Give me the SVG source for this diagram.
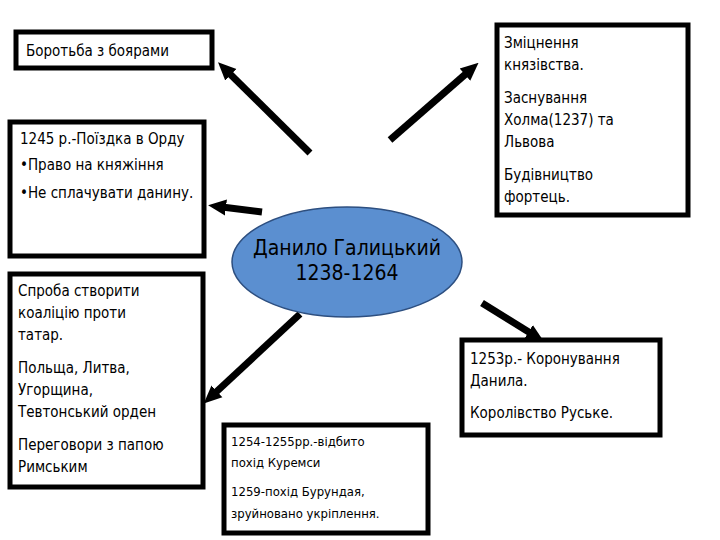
<svg xmlns="http://www.w3.org/2000/svg" width="720" height="540" viewBox="0 0 720 540">
<style>
.b{fill:#fff;stroke:#000;stroke-width:5}
text{font-family:"DejaVu Sans Condensed","DejaVu Sans",sans-serif;font-size:15px;fill:#000}
.c{stroke:#000;stroke-width:7;fill:none;marker-end:url(#a)}
</style>
<defs><marker id="a" markerUnits="userSpaceOnUse" markerWidth="18" markerHeight="18" refX="4" refY="9" orient="auto" viewBox="0 0 18 18"><path d="M0,1 L18,9 L0,17 Z" fill="#000"/></marker></defs>
<rect width="720" height="540" fill="#fff"/>
<g id="connectors">
<line class="c" x1="310" y1="153" x2="228" y2="72"/>
<line class="c" x1="390" y1="140" x2="468" y2="72"/>
<line class="c" x1="262" y1="212" x2="222" y2="207"/>
<line class="c" x1="300" y1="314" x2="214" y2="394"/>
<line class="c" x1="482" y1="303" x2="532" y2="334"/>
</g>
<g id="n1"><rect class="b" x="16" y="32" width="196" height="36"/><text x="26" y="56">Боротьба з боярами</text></g>
<g id="n2"><rect class="b" x="497" y="25" width="191" height="190"/>
<text x="504" y="48">Зміцнення</text><text x="504" y="70">князівства.</text>
<text x="504" y="103">Заснування</text><text x="504" y="125">Холма(1237) та</text><text x="504" y="147">Львова</text>
<text x="504" y="180">Будівництво</text><text x="504" y="202">фортець.</text></g>
<g id="n3"><rect class="b" x="10" y="122" width="194" height="134"/>
<text x="20" y="144">1245 р.-Поїздка в Орду</text><text x="20" y="170">•Право на княжіння</text><text x="20" y="198">•Не сплачувати данину.</text></g>
<g id="n4"><rect class="b" x="10" y="274" width="193" height="213"/>
<text x="18" y="296">Спроба створити</text><text x="18" y="318">коаліцію проти</text><text x="18" y="340">татар.</text>
<text x="18" y="373">Польща, Литва,</text><text x="18" y="395">Угорщина,</text><text x="18" y="417">Тевтонський орден</text>
<text x="18" y="450">Переговори з папою</text><text x="18" y="472">Римським</text></g>
<g id="n5"><rect class="b" x="224" y="425" width="204" height="108"/>
<text x="231" y="446" style="font-size:13px">1254-1255рр.-відбито</text><text x="231" y="467" style="font-size:13px">похід Куремси</text>
<text x="231" y="496" style="font-size:13px">1259-похід Бурундая,</text><text x="231" y="518" style="font-size:13px">зруйновано укріплення.</text></g>
<g id="n6"><rect class="b" x="462" y="340" width="198" height="95"/>
<text x="470" y="364">1253р.- Коронування</text><text x="470" y="386">Данила.</text><text x="470" y="418">Королівство Руське.</text></g>
<g id="center"><ellipse cx="347" cy="262" rx="115" ry="55" fill="#5b8fd0" stroke="#2d4f80" stroke-width="1.5"/>
<text x="347" y="255" text-anchor="middle" style="font-size:21px">Данило Галицький</text>
<text x="347" y="280" text-anchor="middle" style="font-size:21px">1238-1264</text></g>
</svg>
